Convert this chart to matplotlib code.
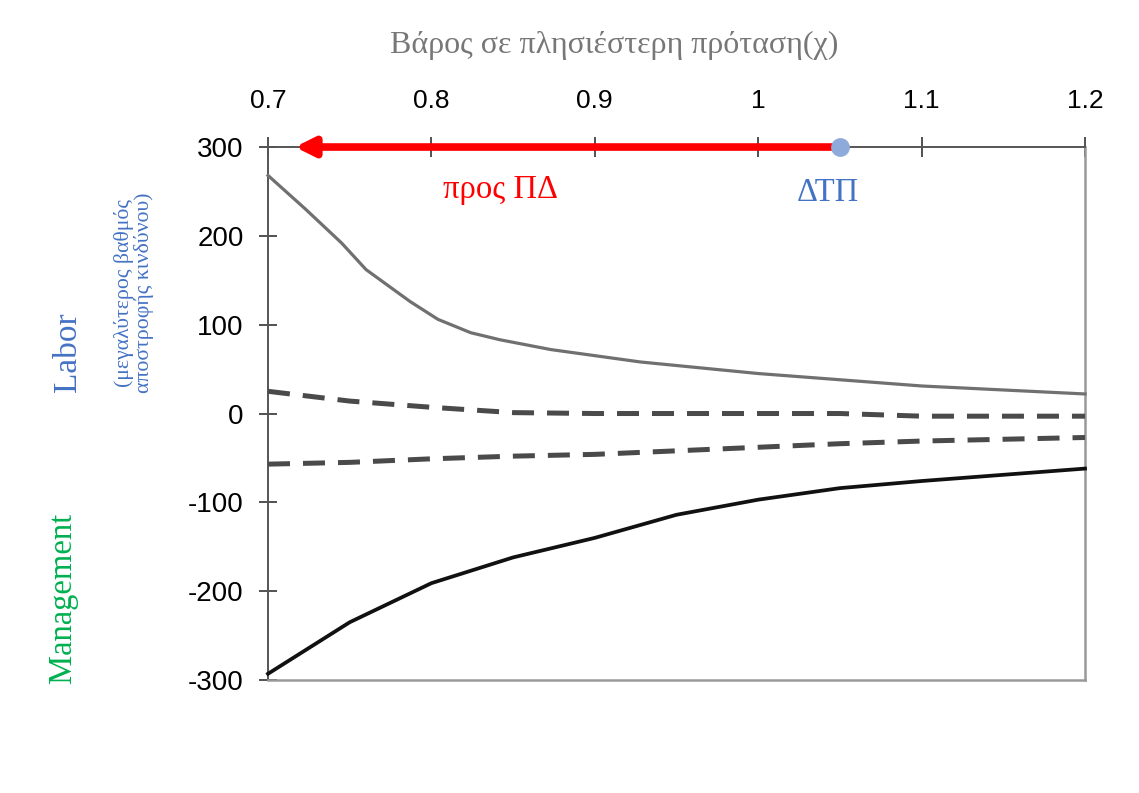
import matplotlib.pyplot as plt

# weight on the closer offer
labor_x = [0.70, 0.723, 0.745, 0.76, 0.787, 0.804, 0.824, 0.842, 0.873, 0.928, 1.0, 1.1, 1.2]
labor_y = [268, 230, 192, 162, 126, 106, 91, 83, 72, 58, 45, 31, 22]

grid_x = [0.70, 0.75, 0.80, 0.85, 0.90, 0.95, 1.00, 1.05, 1.10, 1.20]
upper_dash_y = [25, 14, 7, 1, 0, 0, 0, 0, -3, -3]
lower_dash_y = [-57, -55, -51, -48, -46, -42, -38, -34, -31, -27]
management_y = [-293, -235, -191, -162, -140, -114, -97, -84, -76, -62]

xticks = [0.7, 0.8, 0.9, 1.0, 1.1, 1.2]
xtick_labels = ["0.7", "0.8", "0.9", "1", "1.1", "1.2"]
yticks = [-300, -200, -100, 0, 100, 200, 300]

arrow_start = 1.05
arrow_end = 0.7165
arrow_level = 300

serif = ["Liberation Serif", "DejaVu Serif"]
sans = ["Liberation Sans", "DejaVu Sans"]

fig = plt.figure(figsize=(11.39, 7.93), dpi=100)
ax = fig.add_axes([0.2353, 0.1425, 0.9526 - 0.2353, 0.8146 - 0.1425])

ax.plot(labor_x, labor_y, color="#707070", lw=2.3, clip_on=False, zorder=3)
ax.plot(grid_x, upper_dash_y, color="#4a4a4a", lw=3.6, dashes=(4.4, 2.6), clip_on=False, zorder=3)
ax.plot(grid_x, lower_dash_y, color="#4a4a4a", lw=3.6, dashes=(4.4, 2.6), clip_on=False, zorder=3)
ax.plot(grid_x, management_y, color="#111111", lw=2.7, clip_on=False, zorder=3)

ax.set_xlim(0.7, 1.2)
ax.set_ylim(-300, 300)

ax.xaxis.tick_top()
ax.set_xticks(xticks)
ax.set_xticklabels(xtick_labels, family=sans, fontsize=19)
ax.set_yticks(yticks)
ax.set_yticklabels([str(v) for v in yticks], family=sans, fontsize=20)
ax.tick_params(axis="x", direction="inout", length=15, width=1.2, color="#333333", pad=17)
ax.tick_params(axis="y", direction="inout", length=13, width=1.2, color="#333333", pad=11)

for side in ("left", "top"):
    ax.spines[side].set_color("#555555")
    ax.spines[side].set_linewidth(1.4)
for side in ("right", "bottom"):
    ax.spines[side].set_color("#999999")
    ax.spines[side].set_linewidth(1.8)

# direction arrow along the top edge
ax.annotate("", xy=(arrow_end, arrow_level), xytext=(arrow_start, arrow_level),
            arrowprops=dict(arrowstyle="-|>,head_length=1.1,head_width=0.55",
                            color="#ff0000", lw=5.5, shrinkA=0, shrinkB=0),
            annotation_clip=False, zorder=5)
ax.plot([arrow_start], [arrow_level], "o", ms=12.5, color="#8eaadb", clip_on=False, zorder=6)

ax.text(0.8425, 252, "προς ΠΔ", color="#ff0000", family=serif, fontsize=23.5,
        ha="center", va="center")
ax.text(1.0425, 248, "ΔΤΠ", color="#4472c4", family=serif, fontsize=23.5,
        ha="center", va="center")

fig.text(614 / 1139, 1 - 45 / 793, "Βάρος σε πλησιέστερη πρόταση(χ)", color="#777777",
         family=serif, fontsize=23, ha="center", va="center")

fig.text(68 / 1139, 1 - 352 / 793, "Labor", color="#4472c4", family=serif, fontsize=24,
         rotation=90, ha="center", va="center")
fig.text(134 / 1139, 1 - 293 / 793, "(μεγαλύτερος βαθμός\nαποστροφής κινδύνου)",
         color="#4472c4", family=serif, fontsize=15.7, rotation=90, ha="center",
         va="center", linespacing=1.05)
fig.text(63 / 1139, 1 - 598 / 793, "Management", color="#00b050", family=serif,
         fontsize=23.5, rotation=90, ha="center", va="center")

fig.savefig("out.png", dpi=100, facecolor="white")
